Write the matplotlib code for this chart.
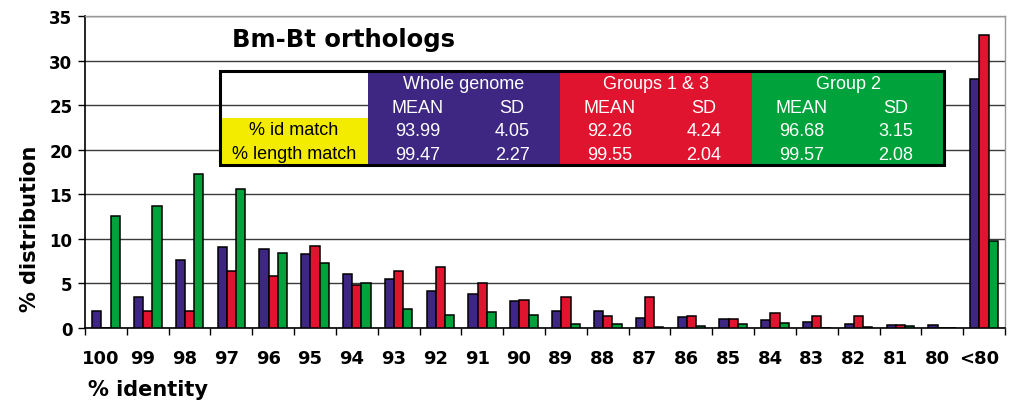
import numpy as np
import matplotlib.pyplot as plt
import matplotlib.transforms as mtransforms
from matplotlib.patches import Rectangle

# values
categories = ["100", "99", "98", "97", "96", "95", "94", "93", "92", "91", "90",
              "89", "88", "87", "86", "85", "84", "83", "82", "81", "80", "<80"]
whole = [1.9, 3.5, 7.6, 9.1, 8.9, 8.3, 6.1, 5.5, 4.1, 3.8, 3.0,
         1.9, 1.9, 1.1, 1.2, 1.0, 0.9, 0.7, 0.5, 0.3, 0.3, 27.9]
groups13 = [0.0, 1.9, 1.9, 6.4, 5.8, 9.2, 4.8, 6.4, 6.8, 5.1, 3.1,
            3.5, 1.3, 3.5, 1.35, 1.0, 1.7, 1.35, 1.35, 0.3, 0.0, 32.9]
group2 = [12.6, 13.7, 17.3, 15.6, 8.4, 7.3, 5.1, 2.1, 1.5, 1.8, 1.5,
          0.5, 0.5, 0.1, 0.2, 0.5, 0.6, 0.0, 0.15, 0.2, 0.0, 9.8]

# summary table
table_groups = ["Whole genome", "Groups 1 & 3", "Group 2"]
table_rows = ["% id match", "% length match"]
id_mean = ["93.99", "92.26", "96.68"]
id_sd = ["4.05", "4.24", "3.15"]
len_mean = ["99.47", "99.55", "99.57"]
len_sd = ["2.27", "2.04", "2.08"]

BLUE = "#3d2783"
RED = "#e0142f"
GREEN = "#00a23c"
YELLOW = "#f3ec00"
colors = [BLUE, RED, GREEN]

W, H = 1010, 402
fig = plt.figure(figsize=(W / 100, H / 100), dpi=100)


def fx(x):
    return x / W


def fy(y):
    return 1 - y / H


ax = fig.add_axes([fx(85), fy(329), fx(1005) - fx(85), fy(17) - fy(329)])

x = np.arange(len(categories))
w = 0.22
for j, (vals, c) in enumerate(zip([whole, groups13, group2], colors)):
    ax.bar(x + (j - 1) * w, vals, width=w, color=c, edgecolor="black",
           linewidth=1.1, zorder=3)

ax.set_xlim(-0.5, len(categories) - 0.5)
ax.set_ylim(0, 35)
ax.set_yticks(range(0, 36, 5))
ax.yaxis.grid(True, color="#3a3a3a", linewidth=1.0, zorder=0)
ax.set_axisbelow(True)

ax.set_xticks(x)
ax.set_xticklabels(categories, fontsize=13, fontweight="bold")
ax.set_xticks(np.arange(-0.5, len(categories)), minor=True)
ax.tick_params(axis="x", which="major", length=0, pad=15)
ax.tick_params(axis="x", which="minor", length=5, width=1, direction="out")
ax.tick_params(axis="y", length=5, width=1, labelsize=12, pad=4)
for lab in ax.get_yticklabels():
    lab.set_fontweight("bold")
shift = mtransforms.ScaledTranslation(-5 / 100, 0, fig.dpi_scale_trans)
for lab in ax.get_xticklabels():
    lab.set_transform(lab.get_transform() + shift)

for s in ["left", "bottom"]:
    ax.spines[s].set_color("black")
    ax.spines[s].set_linewidth(1.2)
for s in ["top", "right"]:
    ax.spines[s].set_color("#999999")
    ax.spines[s].set_linewidth(1.0)

fig.text(fx(30), fy(229), "% distribution", rotation=90, fontsize=15,
         fontweight="bold", ha="center", va="center")
fig.text(fx(88), fy(390), "% identity", fontsize=15, fontweight="bold",
         ha="left", va="center")
fig.text(fx(232), fy(40), "Bm-Bt orthologs", fontsize=17.5, fontweight="bold",
         ha="left", va="center")

# table drawn in pixel positions
tx0, tlab, tcol = 220, 368, 192
ty0, rh = 72, 23.5
tf = "Liberation Sans"


def rect(x0, y0, x1, y1, color):
    fig.add_artist(Rectangle((fx(x0), fy(y1)), fx(x1) - fx(x0), fy(y0) - fy(y1),
                             transform=fig.transFigure, facecolor=color,
                             edgecolor="none", zorder=5))


def txt(xc, yc, s, color):
    fig.text(fx(xc), fy(yc), s, fontsize=13, family=tf, color=color,
             ha="center", va="center", zorder=6)


rect(tx0, ty0 + 2 * rh, tlab, ty0 + 4 * rh, YELLOW)
for r, name in enumerate(table_rows):
    txt((tx0 + tlab) / 2, ty0 + (2.5 + r) * rh, name, "black")

for g, name in enumerate(table_groups):
    c0 = tlab + g * tcol
    rect(c0, ty0, c0 + tcol, ty0 + 4 * rh, colors[g])
    txt(c0 + tcol / 2, ty0 + 0.55 * rh, name, "white")
    xm, xs = c0 + 50, c0 + 144
    txt(xm, ty0 + 1.55 * rh, "MEAN", "white")
    txt(xs, ty0 + 1.55 * rh, "SD", "white")
    txt(xm, ty0 + 2.55 * rh, id_mean[g], "white")
    txt(xs, ty0 + 2.55 * rh, id_sd[g], "white")
    txt(xm, ty0 + 3.55 * rh, len_mean[g], "white")
    txt(xs, ty0 + 3.55 * rh, len_sd[g], "white")

tx1 = tlab + 3 * tcol
fig.add_artist(Rectangle((fx(tx0), fy(ty0 + 4 * rh)), fx(tx1) - fx(tx0),
                         fy(ty0) - fy(ty0 + 4 * rh), transform=fig.transFigure,
                         facecolor="none", edgecolor="black", linewidth=2.2,
                         zorder=7))

fig.savefig("out.png", dpi=100)
